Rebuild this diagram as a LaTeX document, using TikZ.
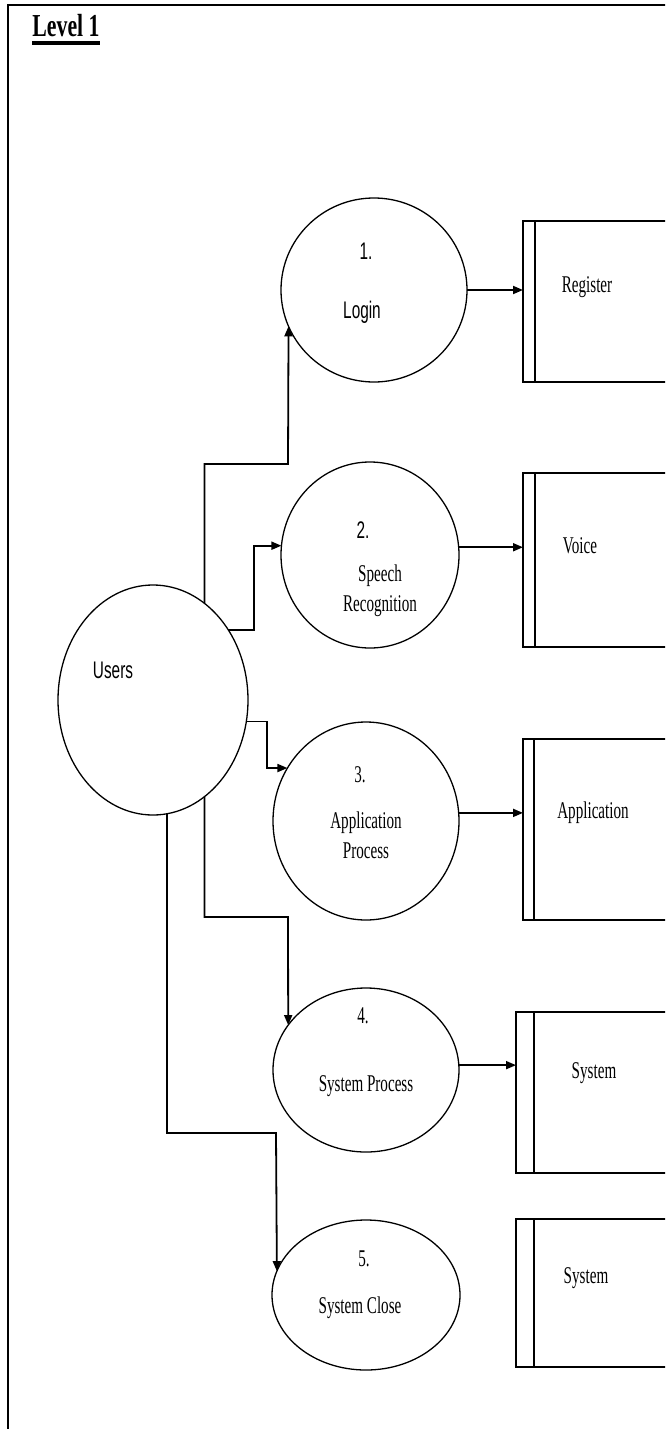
\documentclass[tikz,border=0pt]{standalone}
\usepackage{fontspec}
\newfontfamily\serifc[FakeStretch=0.63]{Liberation Serif}
\newfontfamily\sansc[FakeStretch=0.64]{Liberation Sans}
\newfontfamily\titlefont[FakeStretch=0.68]{Liberation Serif Bold}
\usetikzlibrary{shapes.geometric,arrows.meta}
\begin{document}
\begin{tikzpicture}[x=1pt,y=-1pt,
  proc/.style={ellipse,draw,line width=1.3pt,inner sep=0pt,outer sep=0pt},
  store/.style={rectangle,draw,line width=1.5pt,inner sep=0pt,outer sep=0pt},
  flow/.style={line width=1.8pt,-{Triangle[length=10pt,width=8pt]}},
  innerline/.style={line width=1.5pt},
  lab/.style={font=\serifc\fontsize{24}{28}\selectfont,inner sep=0pt,anchor=base},
  slab/.style={font=\sansc\fontsize{24}{28}\selectfont,inner sep=0pt,anchor=base}]
\clip (0,0) rectangle (665,1429);
\fill[white] (0,0) rectangle (665,1429);
% frame
\draw[line width=2pt] (8,1440) -- (8,5) -- (680,5);
% title
\node[font=\titlefont\fontsize{32}{36}\selectfont,inner sep=0pt,anchor=base] (title) at (66,37) {Level 1};
\draw[line width=4pt] (title.base west) ++(0,6) -- ([yshift=-6pt]title.base east);

% processes
\node[proc,minimum width=186pt,minimum height=184pt] (login) at (374,290) {};
\node[proc,minimum width=178pt,minimum height=186pt] (speech) at (370,555) {};
\node[proc,minimum width=190pt,minimum height=230pt] (users) at (153,700) {};
\node[proc,minimum width=186pt,minimum height=198pt] (app) at (366,821) {};
\node[proc,minimum width=186pt,minimum height=164pt] (sysproc) at (366,1070) {};
\node[proc,minimum width=188pt,minimum height=150pt] (sysclose) at (366,1295) {};

% stores
\node[store,minimum width=177pt,minimum height=161pt] (reg) at (611.5,301.5) {};
\node[store,minimum width=177pt,minimum height=174pt] (voice) at (611.5,560) {};
\node[store,minimum width=177pt,minimum height=181pt] (appbox) at (611.5,829.5) {};
\node[store,minimum width=184pt,minimum height=161pt] (sysbox) at (608,1092.5) {};
\node[store,minimum width=184pt,minimum height=148pt] (closebox) at (608,1293) {};
\draw[innerline] ([xshift=12pt]reg.north west) -- ([xshift=12pt]reg.south west);
\draw[innerline] ([xshift=12pt]voice.north west) -- ([xshift=12pt]voice.south west);
\draw[innerline] ([xshift=11pt]appbox.north west) -- ([xshift=11pt]appbox.south west);
\draw[innerline] ([xshift=18pt]sysbox.north west) -- ([xshift=18pt]sysbox.south west);
\draw[innerline] ([xshift=18pt]closebox.north west) -- ([xshift=18pt]closebox.south west);

% texts
\node[slab] (t1) at (366,259) {1.};
\node[slab] (t1b) at (362,318) {Login};
\node[lab] (treg) at (587,292) {Register};
\node[slab] (t2) at (363,538) {2.};
\node[lab] (t2b) at (380,581) {Speech};
\node[lab] (t2c) at (380,611) {Recognition};
\node[lab] (tvoice) at (580,553) {Voice};
\node[slab] (tusers) at (113,678) {Users};
\node[lab] (t3) at (360,782) {3.};
\node[lab] (t3b) at (366,828) {Application};
\node[lab] (t3c) at (366,858) {Process};
\node[lab] (tapp) at (593,818) {Application};
\node[lab] (t4) at (363,1023) {4.};
\node[lab] (t4b) at (366,1091) {System Process};
\node[lab] (tsys) at (594,1078) {System};
\node[lab] (t5) at (364,1266) {5.};
\node[lab] (t5b) at (360,1313) {System Close};
\node[lab] (tsys2) at (586,1283) {System};

% flows from users
\draw[flow] (users.62.9) |- (288,464) -- (login.-157.85);
\draw[flow] (users.43.3) -- ++(26,0) |- (speech.174.85);
\draw[flow] (users.-13.3) -- ++(21,0) |- (app.146);
\draw[flow] (users.-62.9) |- (288,917) -- (sysproc.150.2);
\draw[flow] (users.-83) |- (276,1133) -- (sysclose.165.5);

% flows to stores
\draw[flow] (login.east) -- (login.east -| reg.west);
\draw[flow] (speech.5.15) -- (speech.5.15 -| voice.west);
\draw[flow] (app.5) -- (app.5 -| appbox.west);
\draw[flow] (sysproc.3) -- (sysproc.3 -| sysbox.west);
\end{tikzpicture}
\end{document}
